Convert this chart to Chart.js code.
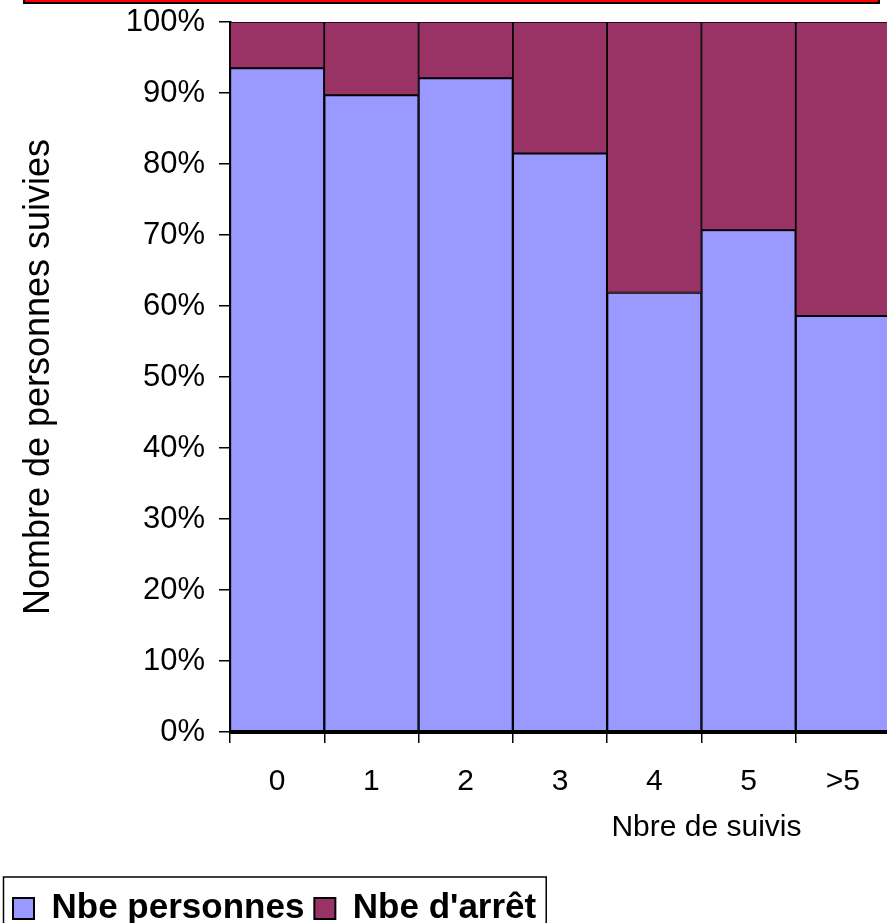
<!DOCTYPE html>
<html>
<head>
<meta charset="utf-8">
<script src="https://cdn.jsdelivr.net/npm/chart.js@4.4.1/dist/chart.umd.min.js"></script>
<style>
html, body { margin: 0; padding: 0; background: #fff; overflow: hidden; width: 887px; height: 923px; }
#box { position: absolute; left: 0; top: 0; width: 890px; height: 936px; }
#topbar { position: absolute; left: 23px; top: -20px; width: 853px; height: 20px; background: #f00; border: 2px solid #000; }
</style>
</head>
<body>
<div id="topbar"></div>
<div id="box"><canvas id="myChart" width="890" height="936"></canvas></div>
<script>
// data (percent of each column)
const categories = ['0', '1', '2', '3', '4', '5', '>5'];
const personnes = [93.5, 89.7, 92.1, 81.5, 61.9, 70.7, 58.6];
const arrets = [6.5, 10.3, 7.9, 18.5, 38.1, 29.3, 41.4];
const yTicks = [0, 10, 20, 30, 40, 50, 60, 70, 80, 90, 100];
const xTitle = 'Nbre de suivis';
const yTitle = 'Nombre de personnes suivies';

const FONT = '"Liberation Sans", Arial, sans-serif';

// x title sits off-centre in the original, plus the frame round the legend
const extras = {
    id: 'extras',
    afterDraw(chart) {
        const ctx = chart.ctx;
        const x = chart.scales.x;
        ctx.save();
        ctx.font = '30px ' + FONT;
        ctx.fillStyle = '#000';
        ctx.textAlign = 'center';
        ctx.textBaseline = 'middle';
        let tx = (x.getPixelForValue(4) + x.getPixelForValue(5)) / 2 + 5;
        ctx.fillText(xTitle, tx, chart.chartArea.bottom + 96);

        const boxes = chart.legend.legendHitBoxes;
        const last = boxes[boxes.length - 1];
        ctx.lineWidth = 1.5;
        ctx.strokeStyle = '#000';
        let left = chart.legend.left + 0.5;
        ctx.strokeRect(left, boxes[0].top - 14, last.left + last.width + 10 - left, 200);
        ctx.restore();
    }
};

var ctx = document.getElementById('myChart').getContext('2d');
var chart = new Chart(ctx, {
    type: 'bar',
    data: {
        labels: categories,
        datasets: [{
            label: 'Nbe personnes',
            data: personnes,
            backgroundColor: '#9999FF',
            borderColor: '#000',
            borderWidth: 1.5,
            borderSkipped: false
        },
        {
            label: "Nbe d'arrêt",
            data: arrets,
            backgroundColor: '#993366',
            borderColor: '#000',
            borderWidth: 1.2,
            borderSkipped: false
        }]
    },
    options: {
        responsive: false,
        animation: false,
        categoryPercentage: 1,
        barPercentage: 1,
        layout: { padding: { top: 22, left: 3, right: 0, bottom: 0 } },
        plugins: {
            tooltip: { enabled: false },
            legend: {
                position: 'bottom',
                align: 'start',
                labels: {
                    color: '#000',
                    font: { family: FONT, size: 35, weight: 'bold' },
                    boxWidth: 21,
                    boxHeight: 21,
                    padding: 10,
                    generateLabels(c) {
                        let items = Chart.defaults.plugins.legend.labels.generateLabels(c);
                        items.forEach(it => { it.lineWidth = 2; });
                        return items;
                    }
                }
            }
        },
        scales: {
            x: {
                stacked: true,
                afterFit(scale) { scale.height = 149; },
                grid: { drawOnChartArea: false, drawTicks: true, tickLength: 11, color: '#000', lineWidth: 1.5 },
                border: { display: true, color: '#000', width: 3 },
                ticks: { color: '#000', padding: 21, font: { family: FONT, size: 30 } }
            },
            y: {
                stacked: true,
                min: 0,
                max: 100,
                afterFit(scale) {
                    scale.width = 227;
                    scale.paddingTop = 0;
                    scale.paddingBottom = 0;
                },
                afterBuildTicks(scale) { scale.ticks = yTicks.map(v => ({ value: v })); },
                grid: { drawOnChartArea: false, drawTicks: true, tickLength: 11, color: '#000', lineWidth: 1.5 },
                border: { display: true, color: '#000', width: 2.5 },
                ticks: {
                    color: '#000',
                    padding: 14,
                    font: { family: FONT, size: 31 },
                    callback: v => v + '%'
                },
                title: {
                    display: true,
                    text: yTitle,
                    color: '#000',
                    padding: { top: 14, bottom: 0 },
                    font: { family: FONT, size: 36 }
                }
            }
        }
    },
    plugins: [extras]
});
</script>
</body>
</html>
